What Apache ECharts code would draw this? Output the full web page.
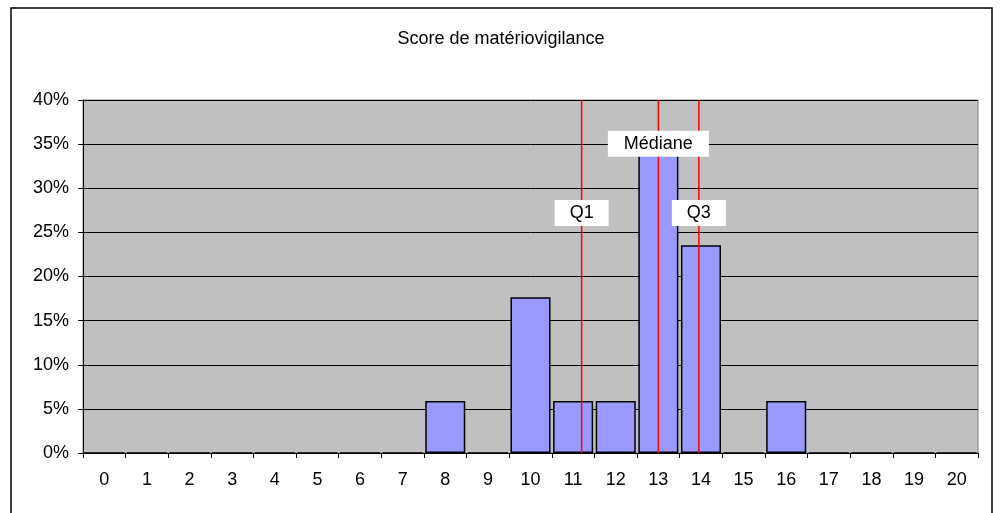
<!DOCTYPE html>
<html>
<head>
<meta charset="utf-8">
<script src="https://cdn.jsdelivr.net/npm/echarts@6/dist/echarts.min.js"></script>
<style>
  html, body { margin: 0; padding: 0; background: #fff; }
  #main { width: 1002px; height: 513px; }
</style>
</head>
<body>
<div id="main"></div>
<script>
  // score categories (x axis)
  const scores = ['0', '1', '2', '3', '4', '5', '6', '7', '8', '9', '10',
                  '11', '12', '13', '14', '15', '16', '17', '18', '19', '20']
  // share of patients per score (fraction)
  const shares = [0, 0, 0, 0, 0, 0, 0, 0, 0.0588, 0, 0.1765,
                  0.0588, 0.0588, 0.3529, 0.2353, 0, 0.0588, 0, 0, 0, 0]
  // quartile markers: name, score position, label height
  const quartNames = ['Q1', 'Médiane', 'Q3']
  const quartPos = [11.2, 13, 13.95]
  const quartLabelY = [0.272, 0.3505, 0.272]

  const font = 'Liberation Sans, Arial, sans-serif'
  const chart = echarts.init(document.getElementById('main'))

  const lineSeries = quartPos.map((q) => ({
    type: 'line',
    xAxisIndex: 1,
    symbol: 'none',
    silent: true,
    lineStyle: { color: '#ff0000', width: 1.5 },
    data: [[q, 0], [q, 0.4]],
    z: 5
  }))

  const labelSeries = {
    type: 'scatter',
    xAxisIndex: 1,
    symbolSize: 0,
    silent: true,
    z: 10,
    itemStyle: { opacity: 1 },
    data: quartPos.map((q, i) => ({
      value: [q, quartLabelY[i]],
      name: quartNames[i],
      label: {
        padding: quartNames[i] === 'Médiane' ? [4, 16] : [4, 15]
      }
    })),
    label: {
      show: true,
      position: 'inside',
      formatter: (p) => p.name,
      backgroundColor: '#ffffff',
      opacity: 1,
      color: '#000',
      fontFamily: font,
      fontSize: 18,
      lineHeight: 18
    }
  }

  chart.setOption({
    animation: false,
    backgroundColor: '#ffffff',
    title: {
      text: 'Score de matériovigilance',
      left: 'center',
      top: 25,
      textStyle: {
        color: '#000',
        fontFamily: font,
        fontWeight: 'normal',
        fontSize: 18
      }
    },
    graphic: [{
      type: 'rect',
      shape: { x: 11, y: 8, width: 981, height: 530 },
      style: { fill: 'none', stroke: '#000', lineWidth: 1.5 },
      silent: true
    }],
    grid: {
      left: 83,
      right: 24,
      top: 100,
      bottom: 60,
      show: true,
      backgroundColor: '#c0c0c0',
      borderColor: '#808080',
      borderWidth: 1
    },
    xAxis: [
      {
        type: 'category',
        data: scores,
        boundaryGap: true,
        axisLine: { lineStyle: { color: '#000', width: 1 } },
        axisTick: { show: true, length: 5, lineStyle: { color: '#000' } },
        axisLabel: {
          color: '#000',
          fontFamily: font,
          fontSize: 18,
          margin: 18
        },
        splitLine: { show: false }
      },
      {
        type: 'value',
        min: -0.5,
        max: 20.5,
        show: false
      }
    ],
    yAxis: {
      type: 'value',
      min: 0,
      max: 0.4,
      interval: 0.05,
      axisLine: { show: true, onZero: false, lineStyle: { color: '#000', width: 1 } },
      axisTick: { show: true, length: 5, lineStyle: { color: '#000' } },
      axisLabel: {
        color: '#000',
        fontFamily: font,
        fontSize: 18,
        margin: 14,
        formatter: (v) => Math.round(v * 100) + '%'
      },
      splitLine: { show: true, lineStyle: { color: '#000', width: 1 } }
    },
    series: [
      {
        type: 'bar',
        data: shares,
        barCategoryGap: '6%',
        itemStyle: { color: '#9999ff', borderColor: '#000', borderWidth: 1.5 },
        z: 3
      },
      ...lineSeries,
      labelSeries
    ]
  })
</script>
</body>
</html>
